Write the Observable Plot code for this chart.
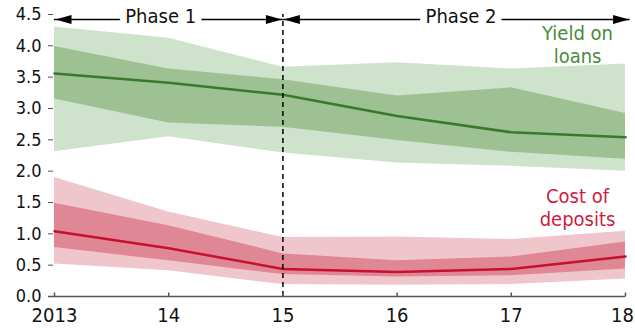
<!DOCTYPE html>
<html>
<head>
<meta charset="utf-8">
<script src="https://cdn.jsdelivr.net/npm/d3@7"></script>
<script src="https://cdn.jsdelivr.net/npm/@observablehq/plot@0.6"></script>
<style>
  html, body { margin: 0; padding: 0; background: #fff; }
  #chart svg { display: block; }
</style>
</head>
<body>
<div id="chart"></div>
<script>
const years = [2013, 2014, 2015, 2016, 2017, 2018];
const yearLabels = ["2013", "14", "15", "16", "17", "18"];
const yTicks = [0, 0.5, 1, 1.5, 2, 2.5, 3, 3.5, 4, 4.5];

const loanMedian    = [3.56, 3.41, 3.22, 2.88, 2.62, 2.54];
const loanInnerLow  = [3.15, 2.77, 2.70, 2.49, 2.30, 2.19];
const loanInnerHigh = [3.99, 3.63, 3.46, 3.20, 3.33, 2.92];
const loanOuterLow  = [2.31, 2.55, 2.29, 2.13, 2.08, 2.00];
const loanOuterHigh = [4.30, 4.12, 3.66, 3.73, 3.63, 3.71];

const depMedian    = [1.04, 0.77, 0.44, 0.39, 0.44, 0.64];
const depInnerLow  = [0.78, 0.57, 0.35, 0.31, 0.33, 0.44];
const depInnerHigh = [1.49, 1.13, 0.68, 0.57, 0.63, 0.87];
const depOuterLow  = [0.52, 0.41, 0.19, 0.18, 0.19, 0.28];
const depOuterHigh = [1.90, 1.35, 0.94, 0.95, 0.91, 1.04];

const phaseLabels = ["Phase 1", "Phase 2"];
const phaseStart = [2013, 2015];
const phaseEnd = [2015, 2018.04];
const phaseLabelX = [2013.93, 2016.56];
const phaseArrowLevel = 4.42;
const phaseLabelLevel = 4.46;
const phaseDivider = 2015;

const seriesLabels = ["Yield on\nloans", "Cost of\ndeposits"];
const seriesLabelX = [2017.58, 2017.58];
const seriesLabelY = [3.72, 1.13];

const FONT = "'Liberation Sans Narrow', 'Arial Narrow', 'DejaVu Sans Condensed', sans-serif";

const rows = years.map((x, i) => ({
  x,
  lm: loanMedian[i], lil: loanInnerLow[i], lih: loanInnerHigh[i], lol: loanOuterLow[i], loh: loanOuterHigh[i],
  dm: depMedian[i], dil: depInnerLow[i], dih: depInnerHigh[i], dol: depOuterLow[i], doh: depOuterHigh[i]
}));
const phases = phaseLabels.map((label, i) => ({label, start: phaseStart[i], end: phaseEnd[i], lx: phaseLabelX[i]}));
const notes = seriesLabels.map((t, i) => ({t, x: seriesLabelX[i], y: seriesLabelY[i], c: i === 0 ? "#4a8a3c" : "#cf1d3f"}));

const tickUp = {draw(ctx) { ctx.moveTo(0, 0); ctx.lineTo(0, -4); }};
const headLeft = {draw(ctx) { ctx.moveTo(0, 0); ctx.lineTo(16, -4.5); ctx.lineTo(16, 4.5); ctx.closePath(); }};
const headRight = {draw(ctx) { ctx.moveTo(0, 0); ctx.lineTo(-16, -4.5); ctx.lineTo(-16, 4.5); ctx.closePath(); }};
const fmtYear = d => yearLabels[years.indexOf(d)];

const chart = Plot.plot({
  width: 635,
  height: 328,
  marginLeft: 48,
  marginRight: 10,
  marginTop: 14,
  marginBottom: 32,
  style: {fontFamily: FONT, background: "#fff"},
  x: {domain: [2013, 2018], range: [54, 625]},
  y: {domain: [0, 4.5]},
  marks: [
    Plot.ruleY(phases, {y: () => phaseArrowLevel, x1: "start", x2: "end", stroke: "#000", strokeWidth: 1.5}),
    Plot.text(phases, {x: "lx", y: () => phaseLabelLevel, text: "label", fontSize: 20, fill: "#111", stroke: "#fff", strokeWidth: 14}),
    Plot.areaY(rows, {x: "x", y1: "lol", y2: "loh", fill: "#cfe2cc"}),
    Plot.areaY(rows, {x: "x", y1: "lil", y2: "lih", fill: "#9dc193"}),
    Plot.lineY(rows, {x: "x", y: "lm", stroke: "#387a2b", strokeWidth: 2.5}),
    Plot.areaY(rows, {x: "x", y1: "dol", y2: "doh", fill: "#f0c6cd"}),
    Plot.areaY(rows, {x: "x", y1: "dil", y2: "dih", fill: "#e08795"}),
    Plot.lineY(rows, {x: "x", y: "dm", stroke: "#c8102e", strokeWidth: 2.5}),
    Plot.ruleX([phaseDivider], {y1: 0, y2: 4.5, stroke: "#000", strokeWidth: 1.5, strokeDasharray: "5,4"}),
    Plot.dot(phases, {x: "start", y: () => phaseArrowLevel, symbol: headLeft, fill: "#000", stroke: "none", dx: 1}),
    Plot.dot(phases, {x: "end", y: () => phaseArrowLevel, symbol: headRight, fill: "#000", stroke: "none", dx: -1}),
    Plot.ruleY([0], {stroke: "#555", strokeWidth: 1.5}),
    Plot.dot(years, {x: d => d, y: () => 0, symbol: tickUp, stroke: "#555", strokeWidth: 1.5, fill: "none"}),
    Plot.axisY({ticks: yTicks, tickFormat: d => d.toFixed(1), tickSize: 5, dx: 5, tickPadding: 7, fontSize: 18, color: "#111", stroke: "#555"}),
    Plot.axisX({ticks: years.slice(0, -1), tickFormat: fmtYear, tickSize: 0, tickPadding: 11, fontSize: 20, color: "#111"}),
    Plot.axisX({ticks: years.slice(-1), tickFormat: fmtYear, tickSize: 0, tickPadding: 11, fontSize: 20, color: "#111", dx: -3}),
    Plot.text(notes, {x: "x", y: "y", text: "t", fill: "c", fontSize: 20, lineAnchor: "bottom", lineHeight: 1.15})
  ]
});
document.getElementById("chart").appendChild(chart);
</script>
</body>
</html>
